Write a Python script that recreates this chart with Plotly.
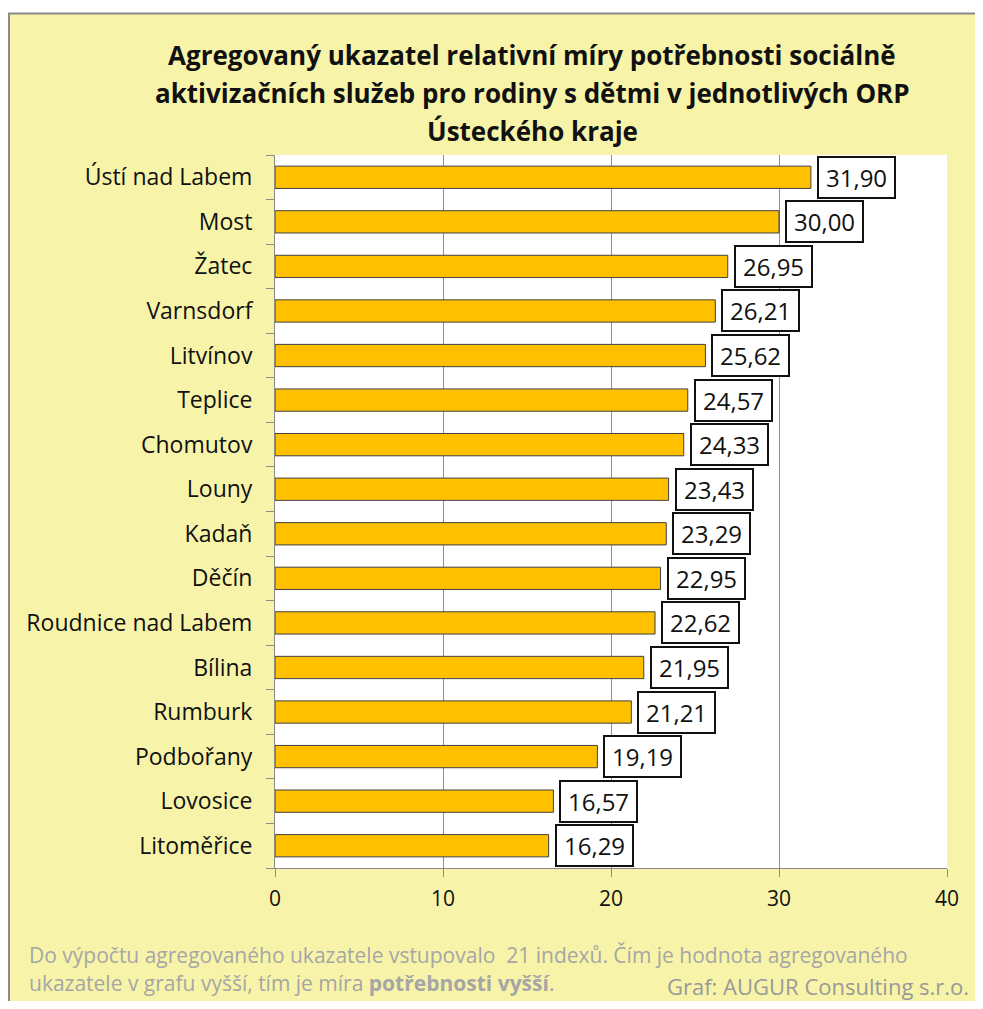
import plotly.graph_objects as go

categories = ["Ústí nad Labem", "Most", "Žatec", "Varnsdorf", "Litvínov", "Teplice",
              "Chomutov", "Louny", "Kadaň", "Děčín", "Roudnice nad Labem", "Bílina",
              "Rumburk", "Podbořany", "Lovosice", "Litoměřice"]
values = [31.90, 30.00, 26.95, 26.21, 25.62, 24.57, 24.33, 23.43, 23.29, 22.95,
          22.62, 21.95, 21.21, 19.19, 16.57, 16.29]
x_ticks = [0, 10, 20, 30, 40]

OFF = 8  # page body margin
W, H = 983 - 2 * OFF, 1009 - 2 * OFF
# plot area in screen pixels: x 275..947, y 155..868
L, T = 275 - OFF, 155 - OFF
R = W - (947 - OFF)
B = H - (868 - OFF)
PW, PH = W - L - R, H - T - B

def px(xs):
    return (xs - OFF - L) / PW

def py(ys):
    return (H - B - (ys - OFF)) / PH

FONT = "'Open Sans', Lato, sans-serif"
BG = "#F7F4A9"
SP = "\u2009"

fig = go.Figure()
fig.add_trace(go.Bar(
    x=values, y=categories, orientation="h",
    marker=dict(color="#FFC000", line=dict(color="#404040", width=1)),
    width=0.5, hoverinfo="x+y",
))

annotations = []
for c, v in zip(categories, values):
    annotations.append(dict(
        x=v, y=c, xref="x", yref="y", xanchor="left", yanchor="middle",
        xshift=6, text=SP + f"{v:.2f}".replace(".", ",") + SP, showarrow=False,
        font=dict(family=FONT, size=24, color="#111111"),
        bgcolor="white", bordercolor="#111111", borderwidth=2, borderpad=3,
    ))

title_lines = ["Agregovaný ukazatel relativní míry potřebnosti sociálně",
               "aktivizačních služeb pro rodiny s dětmi v jednotlivých ORP",
               "Ústeckého kraje"]
for i, line in enumerate(title_lines):
    annotations.append(dict(
        x=px(532), y=py(55 + i * 38), xref="paper", yref="paper",
        xanchor="center", yanchor="middle", text=f"<b>{line}</b>", showarrow=False,
        font=dict(family=FONT, size=26, color="#111111"),
    ))

foot_color = "#A6A6A6"
annotations.append(dict(
    x=px(27), y=py(955), xref="paper", yref="paper", xanchor="left", yanchor="middle",
    text="Do výpočtu agregovaného ukazatele vstupovalo  21 indexů. Čím je hodnota agregovaného",
    showarrow=False, font=dict(family=FONT, size=21, color=foot_color),
))
annotations.append(dict(
    x=px(27), y=py(983), xref="paper", yref="paper", xanchor="left", yanchor="middle",
    text="ukazatele v grafu vyšší, tím je míra <b>potřebnosti vyšší</b>.",
    showarrow=False, font=dict(family=FONT, size=21, color=foot_color),
))
annotations.append(dict(
    x=px(971), y=py(986), xref="paper", yref="paper", xanchor="right", yanchor="middle",
    text="Graf: AUGUR Consulting s.r.o.",
    showarrow=False, font=dict(family=FONT, size=22, color="#999999"),
))

shapes = [
    dict(type="rect", xref="paper", yref="paper", layer="below",
         x0=px(9), x1=px(1000), y0=py(1030), y1=py(13.5),
         fillcolor=BG, line=dict(color="#8a8a8a", width=2)),
    dict(type="rect", xref="paper", yref="paper", layer="below",
         x0=0, x1=1, y0=0, y1=1, fillcolor="white", line=dict(width=0)),
]

fig.update_layout(
    width=W, height=H,
    margin=dict(l=L, r=R, t=T, b=B, autoexpand=False),
    paper_bgcolor="white", plot_bgcolor="rgba(0,0,0,0)",
    showlegend=False, bargap=0.5,
    annotations=annotations, shapes=shapes,
    font=dict(family=FONT, color="#111111"),
)
fig.update_xaxes(
    range=[0, 40], tickvals=x_ticks, ticktext=[str(t) for t in x_ticks],
    showgrid=True, gridcolor="#8f8f8f", gridwidth=1,
    showline=True, linecolor="#8a8a8a", linewidth=1,
    ticks="outside", ticklen=8, tickcolor="#8a8a8a",
    tickfont=dict(family=FONT, size=21, color="#111111"),
    zeroline=False, fixedrange=True, ticklabelstandoff=4,
)
fig.update_yaxes(
    categoryorder="array", categoryarray=categories[::-1],
    showline=True, linecolor="#8a8a8a", linewidth=1,
    ticks="outside", ticklen=8, tickcolor="#8a8a8a", tickson="boundaries",
    tickfont=dict(family=FONT, size=23, color="#111111"),
    showgrid=False, fixedrange=True, ticklabelstandoff=17,
)

fig.write_html("out.html")
